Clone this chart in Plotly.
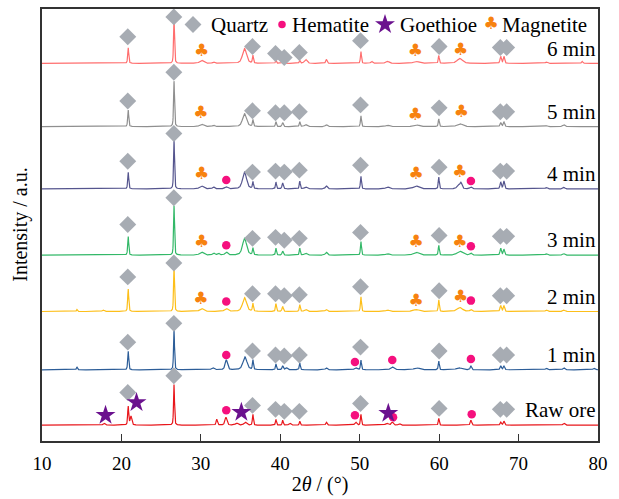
import numpy as np
import plotly.graph_objects as go

# ---------------- data ----------------
series_names = ["Raw ore", "1 min", "2 min", "3 min", "4 min", "5 min", "6 min"]
series_colors = ["#E8161B", "#2C5D98", "#FDBF1A", "#33B868", "#55558E", "#8F8F8F", "#FF6E6E"]
baselines = [16, 72, 131, 188, 255, 318, 382]

# peak tables: (2theta, height, FWHM)
peaks_raw = [(17.8, 2, 0.3), (20.85, 19, 0.15), (21.2, 9, 0.25), (26.62, 41, 0.14), (32.0, 6, 0.2),
             (33.15, 8, 0.3), (34.5, 2, 0.4), (35.6, 3, 0.4), (36.55, 11, 0.15), (39.45, 6, 0.15),
             (40.3, 5, 0.15), (41.2, 2, 0.3), (42.45, 4, 0.15), (45.8, 3, 0.2), (49.5, 3, 0.3),
             (50.15, 11, 0.15), (53.4, 2, 0.4), (54.1, 3, 0.3), (55.0, 1.5, 0.3), (59.95, 7, 0.15),
             (64.0, 5, 0.2), (67.75, 3, 0.2), (68.15, 4, 0.2), (75.7, 2, 0.3)]
peaks_1 = [(14.4, 3, 0.15), (20.85, 19, 0.15), (26.62, 41, 0.14), (31.5, 2, 0.4), (33.2, 10, 0.35),
           (35.55, 13, 0.6), (36.55, 10, 0.15), (39.45, 6, 0.15), (40.3, 4, 0.2), (40.8, 2, 0.3),
           (42.45, 7, 0.15), (45.8, 2, 0.3), (49.5, 2, 0.4), (50.15, 10, 0.15), (54.1, 3, 0.5),
           (57.2, 2, 0.8), (59.95, 9, 0.15), (62.5, 2, 0.8), (64.0, 4, 0.2), (67.75, 4, 0.2),
           (68.15, 4, 0.2), (73.5, 1.5, 0.3), (75.7, 2, 0.3), (79.5, 1.5, 0.3)]
peaks_2 = [(14.4, 2, 0.15), (17.7, 1.5, 0.3), (20.85, 23, 0.15), (26.62, 45, 0.14), (30.1, 3, 0.6),
           (33.2, 3, 0.5), (35.5, 14, 0.6), (36.55, 8, 0.15), (39.45, 8, 0.15), (40.3, 5, 0.2),
           (42.45, 7, 0.15), (43.2, 2, 0.4), (45.8, 2, 0.3), (50.15, 15, 0.15), (53.5, 1.5, 0.5),
           (57.1, 2, 0.8), (59.95, 12, 0.15), (62.6, 4, 0.8), (64.0, 2, 0.3), (67.75, 6, 0.2),
           (68.15, 6, 0.2), (73.5, 1.5, 0.3), (75.7, 1.5, 0.3)]
peaks_3 = [(20.85, 19, 0.15), (26.62, 50, 0.14), (30.1, 3, 0.6), (31.6, 2, 0.3), (32.2, 2, 0.3),
           (33.2, 3, 0.4), (35.5, 17, 0.6), (36.55, 7, 0.15), (39.45, 7, 0.15), (40.3, 4, 0.2),
           (42.45, 7, 0.15), (43.2, 2, 0.4), (45.8, 3, 0.3), (50.15, 14, 0.15), (53.5, 1.5, 0.5),
           (57.1, 3, 0.8), (59.95, 10, 0.15), (62.6, 4, 0.8), (64.0, 2, 0.3), (67.75, 7, 0.2),
           (68.15, 6, 0.2), (73.5, 1.5, 0.3), (75.7, 1.5, 0.3)]
peaks_4 = [(20.85, 17, 0.15), (26.62, 49, 0.14), (30.1, 3, 0.6), (31.6, 2, 0.3), (33.2, 2, 0.4),
           (35.5, 17, 0.6), (36.55, 7, 0.15), (39.45, 7, 0.15), (40.3, 6, 0.2), (42.45, 8, 0.15),
           (43.2, 2, 0.4), (45.8, 3, 0.3), (50.15, 13, 0.15), (53.5, 2, 0.5), (57.1, 3, 0.8),
           (59.95, 12, 0.15), (62.4, 4, 0.4), (62.75, 6, 0.3), (64.0, 2, 0.3), (67.75, 7, 0.2),
           (68.15, 8, 0.2), (73.5, 1.5, 0.3), (75.7, 1.5, 0.3)]
peaks_5 = [(20.85, 17, 0.15), (26.62, 46, 0.14), (30.1, 2.5, 0.6), (31.6, 1.5, 0.3), (35.5, 13, 0.6),
           (36.55, 7, 0.15), (39.45, 5, 0.15), (40.3, 4, 0.2), (42.45, 5, 0.15), (43.2, 2, 0.4),
           (45.8, 2, 0.3), (50.15, 11, 0.15), (53.5, 1.5, 0.5), (57.1, 2, 0.8), (59.95, 8, 0.15),
           (62.6, 3, 0.8), (67.75, 4, 0.2), (68.15, 5, 0.2), (73.5, 1, 0.3), (75.7, 2, 0.3)]
peaks_6 = [(20.85, 16, 0.15), (26.62, 45, 0.14), (30.1, 3, 0.6), (31.6, 1.5, 0.3), (35.5, 15, 0.6),
           (36.55, 8, 0.15), (39.45, 3, 0.15), (40.3, 3, 0.2), (42.45, 3, 0.15), (43.2, 4, 0.4),
           (45.8, 4, 0.2), (50.15, 12, 0.15), (51.5, 2, 0.3), (53.5, 2, 0.5), (57.1, 2, 0.8),
           (59.95, 8, 0.15), (62.6, 5, 0.8), (67.75, 7, 0.2), (68.15, 7, 0.2), (73.5, 1.5, 0.3),
           (78.0, 2, 0.2)]
peak_tables = [peaks_raw, peaks_1, peaks_2, peaks_3, peaks_4, peaks_5, peaks_6]

# phase marks: positions (2theta) and heights above each pattern's baseline
quartz_pos = [20.8, 26.6, 36.5, 39.4, 40.5, 42.4, 50.1, 60.0, 67.7, 68.5]
quartz_h = [
    [33, 50, 20, 16, 14, 14, 22, 17, 16, 16],
    [28, 47, 19, 15, 14, 15, 23, 19, 15, 15],
    [35, 49, 18, 18, 16, 17, 25, 21, 16, 16],
    [31, 58, 17, 18, 15, 17, 23, 20, 19, 19],
    [28, 56, 17, 18, 17, 19, 24, 22, 18, 18],
    [26, 55, 16, 14, 14, 15, 22, 19, 15, 15],
    [27, 47, 17, 10, 6, 11, 23, 17, 16, 16],
]
hematite = [
    [(33.2, 15), (49.4, 10), (54.2, 8), (64.1, 11)],
    [(33.2, 15), (49.4, 8), (54.1, 10), (64.0, 11)],
    [(33.2, 10), (64.0, 11)],
    [(33.2, 10), (64.0, 9)],
    [(33.2, 9), (64.0, 8)],
    [],
    [],
]
goethite = [(18.0, 10), (21.9, 23), (35.1, 13), (53.6, 12)]  # raw ore only
magnetite = [
    [], [],
    [(30.0, 12), (57.1, 10), (62.7, 14)],
    [(30.1, 13), (57.1, 13), (62.6, 13)],
    [(30.1, 14), (57.1, 14), (62.6, 16)],
    [(30.0, 13), (57.0, 11), (62.8, 14)],
    [(30.1, 12), (57.0, 12), (62.7, 13)],
]
x_ticks = [10, 20, 30, 40, 50, 60, 70, 80]

C_Q = "#A7ACB3"
C_H = "#F5107E"
C_G = "#6B118E"
C_M = "#F7820F"
FONT = "Liberation Serif"

# ---------------- build ----------------
x = np.arange(10.0, 80.0001, 0.02)


def profile(table):
    y = np.zeros_like(x)
    for c, h, w in table:
        g = np.exp(-4 * np.log(2) * ((x - c) / w) ** 2)
        l = 1.0 / (1.0 + 4 * ((x - c) / w) ** 2)
        y += h * (0.5 * g + 0.5 * l)
    return y


fig = go.Figure()
for i, name in enumerate(series_names):
    fig.add_trace(go.Scatter(x=x, y=baselines[i] + profile(peak_tables[i]), mode="lines",
                             line=dict(color=series_colors[i], width=1.2), showlegend=False,
                             hoverinfo="skip"))

for i in range(len(series_names)):
    b = baselines[i]
    fig.add_trace(go.Scatter(x=quartz_pos, y=[b + h for h in quartz_h[i]], mode="markers",
                             marker=dict(symbol="diamond", size=13, color=C_Q), showlegend=False))
    if hematite[i]:
        fig.add_trace(go.Scatter(x=[p for p, _ in hematite[i]], y=[b + h for _, h in hematite[i]],
                                 mode="markers", marker=dict(symbol="circle", size=8.5, color=C_H),
                                 showlegend=False))
    if magnetite[i]:
        fig.add_trace(go.Scatter(x=[p for p, _ in magnetite[i]], y=[b + h for _, h in magnetite[i]],
                                 mode="text", text=["♣"] * len(magnetite[i]), textposition="middle center",
                                 textfont=dict(color=C_M, size=17, family="DejaVu Sans"),
                                 showlegend=False))
fig.add_trace(go.Scatter(x=[p for p, _ in goethite], y=[baselines[0] + h for _, h in goethite],
                         mode="markers", marker=dict(symbol="star", size=15, color=C_G, line=dict(width=0)),
                         showlegend=False))

# legend glyphs on an overlay axis in pixel units
fig.add_trace(go.Scatter(x=[193], y=[22.7], xaxis="x2", yaxis="y2", mode="markers",
                         marker=dict(symbol="diamond", size=13, color=C_Q), showlegend=False))
fig.add_trace(go.Scatter(x=[282], y=[22.7], xaxis="x2", yaxis="y2", mode="markers",
                         marker=dict(symbol="circle", size=7.5, color=C_H), showlegend=False))
fig.add_trace(go.Scatter(x=[385], y=[22.7], xaxis="x2", yaxis="y2", mode="markers",
                         marker=dict(symbol="star", size=15, color=C_G), showlegend=False))
fig.add_trace(go.Scatter(x=[491], y=[22.7], xaxis="x2", yaxis="y2", mode="text", text=["♣"],
                         textfont=dict(color=C_M, size=17, family="DejaVu Sans"), showlegend=False))

annotations = []
for txt, xl in [("Quartz", 209), ("Hematite", 290), ("Goethioe", 398), ("Magnetite", 500)]:
    annotations.append(dict(x=xl, y=22.7, xref="x2", yref="y2", text=txt, showarrow=False,
                            xanchor="left", yanchor="middle", font=dict(family=FONT, size=21, color="black")))
for i, name in enumerate(series_names):
    annotations.append(dict(x=80, y=baselines[i] + 15, xref="x", yref="y", text=name, showarrow=False,
                            xanchor="right", yanchor="middle", xshift=0,
                            font=dict(family=FONT, size=21, color="black")))
annotations.append(dict(x=-0.04, y=0.5, xref="paper", yref="paper", text="Intensity / a.u.",
                        textangle=-90, showarrow=False, xanchor="center", yanchor="middle",
                        font=dict(family=FONT, size=20, color="black")))

fig.update_layout(
    width=619, height=499,
    margin=dict(l=42, r=21, t=7, b=55),
    paper_bgcolor="white", plot_bgcolor="white",
    font=dict(family=FONT, color="black"),
    annotations=annotations,
    xaxis=dict(range=[10, 80], tickvals=x_ticks, ticks="inside", ticklen=7, tickcolor="#333",
               showline=True, mirror=True, linecolor="#333", linewidth=1.5, showgrid=False,
               zeroline=False, tickfont=dict(family=FONT, size=19, color="black"), ticklabelstandoff=4,
               title=dict(text="2<i>θ</i> / (°)", font=dict(family=FONT, size=20, color="black"), standoff=4)),
    yaxis=dict(range=[0, 437], showticklabels=False, ticks="", showline=True, mirror=True,
               linecolor="#333", linewidth=1.5, showgrid=False, zeroline=False),
    xaxis2=dict(overlaying="x", range=[42, 598], visible=False),
    yaxis2=dict(overlaying="y", range=[444, 7], visible=False),
)

fig.write_html("out.html")
